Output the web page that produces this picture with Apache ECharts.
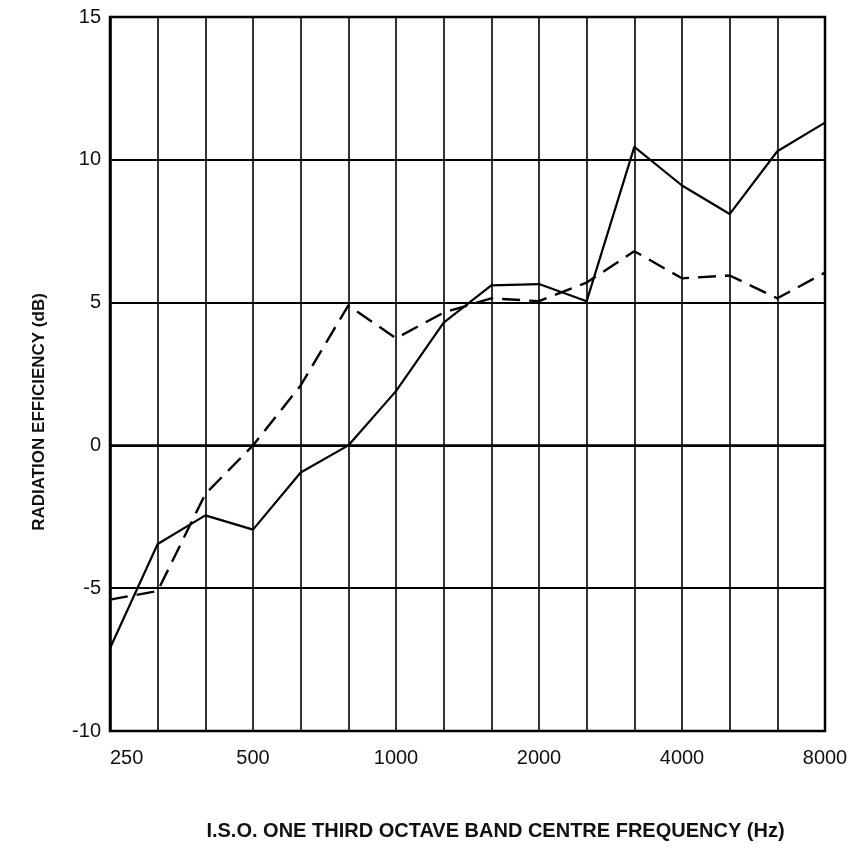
<!DOCTYPE html>
<html>
<head>
<meta charset="utf-8">
<script src="https://cdn.jsdelivr.net/npm/echarts@6/dist/echarts.min.js"></script>
<style>
html,body{margin:0;padding:0;background:#fff;}
#chart{width:855px;height:868px;}
</style>
</head>
<body>
<div id="chart"></div>
<script>
const categories = ['250','315','400','500','630','800','1000','1250','1600','2000','2500','3150','4000','5000','6300','8000'];
const solidValues = [-7.1, -3.45, -2.45, -2.95, -0.95, 0.0, 1.9, 4.3, 5.6, 5.65, 5.05, 10.45, 9.1, 8.1, 10.3, 11.3];
const dashedValues = [-5.4, -5.1, -1.7, 0.0, 2.1, 4.9, 3.75, 4.65, 5.15, 5.05, 5.7, 6.8, 5.85, 5.95, 5.15, 6.05];
const yTicks = {min: -10, max: 15, interval: 5};

const chart = echarts.init(document.getElementById('chart'));
chart.setOption({
  backgroundColor: '#fff',
  animation: false,
  grid: {left: 110, right: 30, top: 17, bottom: 137, show: true, borderColor: '#000', borderWidth: 2.5},
  xAxis: {
    type: 'category',
    data: categories,
    boundaryGap: false,
    axisLine: {lineStyle: {color: '#000', width: 2.5}},
    axisTick: {show: false},
    axisLabel: {interval: 2, color: '#111', fontSize: 20, margin: 17, fontFamily: 'Liberation Sans', alignMinLabel: 'left'},
    splitLine: {show: true, interval: 0, lineStyle: {color: '#000', width: 1.6}},
    name: 'I.S.O. ONE THIRD OCTAVE BAND CENTRE FREQUENCY (Hz)',
    nameLocation: 'middle',
    nameGap: 90,
    nameTextStyle: {color: '#111', fontSize: 20, fontWeight: 'bold', fontFamily: 'Liberation Sans', padding: [0, 0, 0, 56]}
  },
  yAxis: {
    type: 'value',
    min: yTicks.min, max: yTicks.max, interval: yTicks.interval,
    axisLine: {show: true, lineStyle: {color: '#000', width: 2.5}},
    axisTick: {show: false},
    axisLabel: {color: '#111', fontSize: 20, margin: 9, fontFamily: 'Liberation Sans'},
    splitLine: {show: true, lineStyle: {color: '#000', width: 2}},
    name: 'RADIATION EFFICIENCY (dB)',
    nameLocation: 'middle',
    nameGap: 62,
    nameRotate: 90,
    nameTextStyle: {color: '#111', fontSize: 17, fontWeight: 'bold', fontFamily: 'Liberation Sans', padding: [0, 76, 0, 0]}
  },
  series: [
    {
      type: 'line', data: solidValues, symbol: 'none',
      lineStyle: {color: '#000', width: 2.2, type: 'solid'}
    },
    {
      type: 'line', data: dashedValues, symbol: 'none',
      lineStyle: {color: '#000', width: 2.4, type: [18, 9]}
    }
  ]
});
</script>
</body>
</html>
